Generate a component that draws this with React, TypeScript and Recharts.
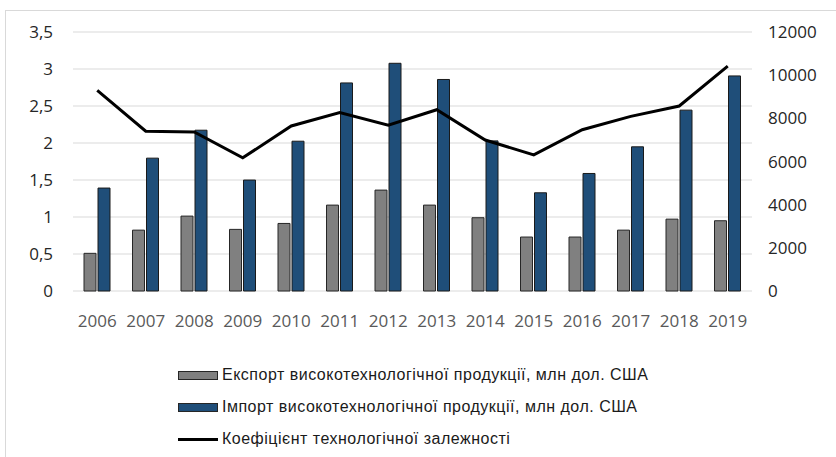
import React from 'react';
import { ComposedChart, Bar, Line, XAxis, YAxis, CartesianGrid, Legend } from 'recharts';

const years = ['2006', '2007', '2008', '2009', '2010', '2011', '2012', '2013', '2014', '2015', '2016', '2017', '2018', '2019'];
const exportValues = [1745, 2820, 3470, 2855, 3130, 3980, 4675, 3980, 3395, 2500, 2500, 2820, 3330, 3255];
const importValues = [4770, 6155, 7450, 5140, 6940, 9640, 10550, 9800, 6955, 4550, 5445, 6680, 8380, 9965];
const coefficient = [2.71, 2.16, 2.15, 1.8, 2.23, 2.41, 2.24, 2.45, 2.04, 1.84, 2.18, 2.36, 2.5, 3.04];

const leftTicks = [0, 0.5, 1, 1.5, 2, 2.5, 3, 3.5];
const rightTicks = [0, 2000, 4000, 6000, 8000, 10000, 12000];

const EXPORT_NAME = 'Експорт високотехнологічної продукції, млн дол. США';
const IMPORT_NAME = 'Імпорт високотехнологічної продукції, млн дол. США';
const COEF_NAME = 'Коефіцієнт технологічної залежності';
const legendOrder = [EXPORT_NAME, IMPORT_NAME, COEF_NAME];

const data = years.map((year, i) => ({
  year,
  exp: exportValues[i],
  imp: importValues[i],
  coef: coefficient[i],
}));

const renderLegend = (props: any) => {
  const payload = [...props.payload].sort(
    (a: any, b: any) => legendOrder.indexOf(a.value) - legendOrder.indexOf(b.value)
  );
  return (
    <div>
      {payload.map((entry: any) => (
        <div
          key={entry.value}
          style={{
            display: 'flex',
            alignItems: 'center',
            height: 32,
            fontFamily: '"Liberation Sans", sans-serif',
            fontSize: 16,
            letterSpacing: 0.5,
            color: '#1a1a1a',
          }}
        >
          {entry.type === 'line' ? (
            <div style={{ width: 40, height: 3, background: '#000', marginRight: 4 }} />
          ) : (
            <div style={{ width: 38, height: 7, background: entry.color, border: '1px solid #262626', marginRight: 4 }} />
          )}
          <span>{entry.value}</span>
        </div>
      ))}
    </div>
  );
};

const App: React.FC = () => {
  return (
    <div style={{ position: 'absolute', left: 0, top: 0, width: 836, height: 457, overflow: 'hidden', background: '#fff' }}>
      <div style={{ position: 'absolute', left: 5, top: 10, width: 860, height: 480, border: '1px solid #d9d9d9' }} />
      <ComposedChart
        width={836}
        height={457}
        data={data}
        margin={{ top: 32, right: 0, bottom: 126, left: 0 }}
        barGap={2}
        style={{ fontFamily: '"Open Sans", sans-serif' }}
      >
        <CartesianGrid yAxisId="left" vertical={false} stroke="#d9d9d9" />
        <XAxis
          dataKey="year"
          height={40}
          axisLine={false}
          tickLine={false}
          tickSize={0}
          tickMargin={24}
          tick={{ fill: '#595959', fontSize: 17 }}
        />
        <YAxis
          yAxisId="left"
          width={73}
          domain={[0, 3.5]}
          ticks={leftTicks}
          axisLine={false}
          tickLine={false}
          tickSize={0}
          tickMargin={20}
          tickFormatter={(v: number) => String(v).replace('.', ',')}
          tick={{ fill: '#262626', fontSize: 17 }}
        />
        <YAxis
          yAxisId="right"
          orientation="right"
          width={84}
          domain={[0, 12000]}
          ticks={rightTicks}
          axisLine={false}
          tickLine={false}
          tickSize={0}
          tickMargin={16}
          tick={{ fill: '#262626', fontSize: 17, textAnchor: 'start' }}
        />
        <Bar yAxisId="right" dataKey="exp" name={EXPORT_NAME} fill="#808080" stroke="#262626" strokeWidth={1} barSize={12} isAnimationActive={false} />
        <Bar yAxisId="right" dataKey="imp" name={IMPORT_NAME} fill="#1f4e79" stroke="#1a1a1a" strokeWidth={1} barSize={12} isAnimationActive={false} />
        <Line yAxisId="left" type="linear" dataKey="coef" name={COEF_NAME} stroke="#000" strokeWidth={3} dot={false} isAnimationActive={false} legendType="line" />
        <Legend
          layout="vertical"
          align="center"
          verticalAlign="middle"
          content={renderLegend}
          wrapperStyle={{ top: 359, left: 178, width: 560 }}
        />
      </ComposedChart>
    </div>
  );
};

export default App;
